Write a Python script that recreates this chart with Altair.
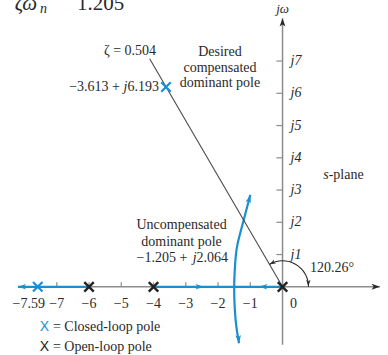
import altair as alt
import pandas as pd

# s-plane window (real axis, imaginary axis)
X_DOM = [-8.76, 3.27]
Y_DOM = [-2.115, 8.893]

BLUE = "#1a8fd0"
GRAY = "#8c8c8c"
INK = "#2a2a2a"
SERIF = "Liberation Serif"
SANS = "Liberation Sans"

# poles
open_re = [0, -4, -6]
open_im = [0, 0, 0]
closed_re = [-7.59, -3.613]
closed_im = [0, 6.193]

# complex root-locus branch leaving the breakaway point
branch_re = [-1.35, -1.43, -1.48, -1.50, -1.47, -1.40, -1.205, -1.0]
branch_im = [-1.75, -1.25, -0.70, 0.0, 0.70, 1.30, 2.064, 2.85]

# real-axis locus segments
seg_start = [-8.2, -4.0]
seg_end = [-6.0, 0.0]

# damping-ratio line zeta = 0.504 (120.26 deg)
zeta_re = [0.0, -4.12]
zeta_im = [0.0, 7.07]

# axis ticks and labels
xtick_vals = [-7, -6, -5, -4, -3, -2, -1]
xtick_labels = ["−7", "−6", "−5", "−4", "−3", "−2", "−1"]
ytick_vals = [1, 2, 3, 4, 5, 6, 7]
ytick_labels = ["j1", "j2", "j3", "j4", "j5", "j6", "j7"]

xs = alt.Scale(domain=X_DOM, nice=False, zero=False)
ys = alt.Scale(domain=Y_DOM, nice=False, zero=False)


def X(f="x"):
    return alt.X(f"{f}:Q", scale=xs, axis=None)


def Y(f="y"):
    return alt.Y(f"{f}:Q", scale=ys, axis=None)


def texts(rows, **kw):
    df = pd.DataFrame(rows, columns=["x", "y", "t"])
    style = dict(font=SERIF, fontSize=14, color=INK)
    style.update(kw)
    return alt.Chart(df).mark_text(**style).encode(x=X(), y=Y(), text="t:N")


ARROW = "M0,0L-0.7,2L0,1.5L0.7,2Z"


def arrows(rows, color, size=64):
    df = pd.DataFrame(rows, columns=["x", "y", "a"])
    return alt.Chart(df).mark_point(
        shape=ARROW, filled=True, color=color, size=size, opacity=1
    ).encode(x=X(), y=Y(), angle=alt.Angle("a:Q", scale=None))


layers = []

# axes
axes_df = pd.DataFrame({"x": [-8.2, 0.0], "x2": [3.02, 0.0], "y": [0.0, -1.8], "y2": [0.0, 8.33]})
layers.append(alt.Chart(axes_df).mark_rule(color=GRAY, strokeWidth=1.5).encode(
    x=X(), x2="x2:Q", y=Y(), y2="y2:Q"))

# tick marks
xt = pd.DataFrame({"x": xtick_vals, "y": [0.0] * 7, "y2": [0.14] * 7})
layers.append(alt.Chart(xt).mark_rule(color=GRAY, strokeWidth=1.2).encode(x=X(), y=Y(), y2="y2:Q"))
yt = pd.DataFrame({"x": [-0.19] * 7, "x2": [0.0] * 7, "y": ytick_vals})
layers.append(alt.Chart(yt).mark_rule(color=GRAY, strokeWidth=1.2).encode(x=X(), x2="x2:Q", y=Y()))

# real-axis locus
seg_df = pd.DataFrame({"x": seg_start, "x2": seg_end, "y": [0.0, 0.0]})
layers.append(alt.Chart(seg_df).mark_rule(color=BLUE, strokeWidth=2.2).encode(x=X(), x2="x2:Q", y=Y()))

# complex branch
br = pd.DataFrame({"x": branch_re, "y": branch_im, "i": range(len(branch_re))})
layers.append(alt.Chart(br).mark_line(color=BLUE, strokeWidth=2.2, interpolate="natural").encode(
    x=X(), y=Y(), order="i:Q"))

# zeta line
zl = pd.DataFrame({"x": zeta_re, "y": zeta_im, "i": [0, 1]})
layers.append(alt.Chart(zl).mark_line(color="#4a4a4a", strokeWidth=1.1).encode(x=X(), y=Y(), order="i:Q"))

# angle arc 120.26 deg
layers.append(alt.Chart(pd.DataFrame({"x": [0.0], "y": [0.0]})).mark_arc(
    radius=26, radius2=26, theta=5.755, theta2=7.854, stroke=INK, strokeWidth=1.1,
    fillOpacity=0, color=INK).encode(x=X(), y=Y()))

# arrowheads
layers.append(arrows([[-8.2, 0, 270], [-2.45, 0, 90], [-0.72, 0, 270],
                      [-1.0, 2.85, 15], [-1.35, -1.75, 174]], BLUE))
layers.append(arrows([[0.0, 8.33, 0], [3.02, 0, 90]], INK, size=70))
layers.append(arrows([[0.8, 0.02, 180], [-0.40, 0.69, 240]], INK, size=40))

# poles
XPATH = "M-1,-1L1,1M-1,1L1,-1"
op = pd.DataFrame({"x": open_re, "y": open_im})
layers.append(alt.Chart(op).mark_point(shape=XPATH, size=90, stroke="#222222", strokeWidth=2.4,
                                       filled=False, opacity=1).encode(x=X(), y=Y()))
cp = pd.DataFrame({"x": closed_re, "y": closed_im})
layers.append(alt.Chart(cp).mark_point(shape=XPATH, size=90, stroke=BLUE, strokeWidth=2.2,
                                       filled=False, opacity=1).encode(x=X(), y=Y()))

# tick labels
layers.append(texts([[v, -0.53, t] for v, t in zip(xtick_vals, xtick_labels)], align="center", baseline="middle"))
layers.append(texts([[-7.59, -0.53, "−7.59"]], align="center", baseline="middle", dx=-9))
layers.append(texts([[0.0, -0.53, "0"]], align="center", baseline="middle", dx=11))
layers.append(texts([[0.0, v, t] for v, t in zip(ytick_vals, ytick_labels)],
                    align="left", baseline="middle", dx=8, fontStyle="italic"))

# annotations
layers.append(texts([[0.0, 8.62, "jω"]], align="center", baseline="middle", fontStyle="italic", fontSize=13))
layers.append(texts([[-4.73, 7.31, "ζ = 0.504"]], align="center", baseline="middle"))

# desired pole value, written in pieces so that j is italic
layers.append(texts([[-3.613, 6.193, "6.193"]], align="right", baseline="middle", dx=-7))
layers.append(texts([[-3.613, 6.193, "j"]], align="right", baseline="middle", dx=-38.5, fontStyle="italic"))
layers.append(texts([[-3.613, 6.193, "−3.613 +"]], align="right", baseline="middle", dx=-46))

layers.append(texts([[-1.94, 7.29, "Desired"], [-1.94, 6.79, "compensated"], [-1.94, 6.31, "dominant pole"]],
                    align="center", baseline="middle"))
layers.append(texts([[-3.13, 1.92, "Uncompensated"], [-3.13, 1.40, "dominant pole"]],
                    align="center", baseline="middle"))
# uncompensated pole value, in pieces
layers.append(texts([[-3.13, 0.90, "−1.205 +"]], align="left", baseline="middle", dx=-45))
layers.append(texts([[-3.13, 0.90, "j"]], align="left", baseline="middle", dx=11.2, fontStyle="italic"))
layers.append(texts([[-3.13, 0.90, "2.064"]], align="left", baseline="middle", dx=15))

layers.append(texts([[1.43, 3.46, "s"]], align="right", baseline="middle", fontStyle="italic"))
layers.append(texts([[1.43, 3.46, "-plane"]], align="left", baseline="middle"))
layers.append(texts([[0.85, 0.58, "120.26°"]], align="left", baseline="middle"))

# heading fragment
layers.append(texts([[-8.30, 8.58, "ζω"]], align="left", baseline="alphabetic", fontSize=21, fontStyle="italic"))
layers.append(texts([[-7.52, 8.49, "n"]], align="left", baseline="alphabetic", fontSize=14, fontStyle="italic"))
layers.append(texts([[-6.37, 8.58, "1.205"]], align="left", baseline="alphabetic", fontSize=21))

# key
layers.append(texts([[-7.38, -1.24, "X"]], align="center", baseline="middle", font=SANS, fontSize=14, color=BLUE))
layers.append(texts([[-7.38, -1.86, "X"]], align="center", baseline="middle", font=SANS, fontSize=14, color="#222222"))
layers.append(texts([[-7.12, -1.24, "= Closed-loop pole"], [-7.12, -1.86, "= Open-loop pole"]],
                    align="left", baseline="middle"))

chart = alt.layer(*layers).properties(
    width=388, height=355, padding=0, autosize=alt.AutoSizeParams(type="none"), background="white"
).configure_view(stroke=None)

chart.save("out.html", embed_options={"renderer": "svg", "actions": False})
